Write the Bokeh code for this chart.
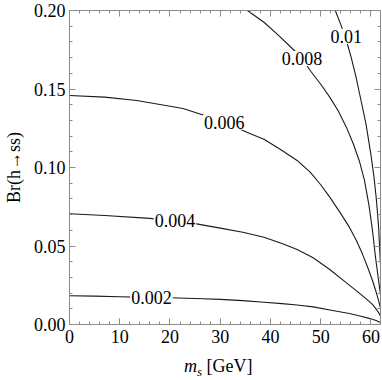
import numpy as np
from bokeh.plotting import figure
from bokeh.models import LinearAxis, FixedTicker, Range1d, Div
from bokeh.layouts import column
from bokeh.core.properties import value
from bokeh.embed import file_html
from bokeh.resources import INLINE

# ---- data ----
x_ticks = [0, 10, 20, 30, 40, 50, 60]
x_tick_labels = ["0", "10", "20", "30", "40", "50", "60"]
y_ticks = [0.0, 0.05, 0.10, 0.15, 0.20]
y_tick_labels = ["0.00", "0.05", "0.10", "0.15", "0.20"]

levels = ["0.002", "0.004", "0.006", "0.008", "0.01"]

c002_x = [0, 5, 10, 15, 20, 26.6, 30, 34.5, 38.7, 42.3, 45.3, 48.5, 52.1, 55.7, 58, 60, 61, 61.9]
c002_y = [0.0183, 0.0181, 0.0177, 0.0173, 0.0170, 0.0164, 0.0160, 0.0152, 0.0142, 0.0133,
          0.0124, 0.0112, 0.0091, 0.0070, 0.0053, 0.0036, 0.0025, 0.0013]

c004_x = [0, 7, 16, 25.3, 30, 34.5, 38.7, 42.3, 45.3, 48.5, 51.8, 55, 57, 59, 60.3, 61.2, 61.9]
c004_y = [0.0705, 0.0694, 0.0676, 0.0641, 0.0614, 0.0588, 0.0556, 0.0516, 0.0478, 0.0425,
          0.0350, 0.0268, 0.0217, 0.0165, 0.0128, 0.0092, 0.0055]

c006_x = [0, 7, 13.4, 22.6, 26.6, 30.9, 35.4, 38.7, 42, 45.3, 47.9, 50, 51.8, 53.8, 55.7,
          57.1, 58.3, 59.4, 60.3, 61.0, 61.5, 61.9]
c006_y = [0.1459, 0.1448, 0.1427, 0.1376, 0.1335, 0.1290, 0.1223, 0.1180, 0.1115, 0.1045,
          0.0970, 0.0890, 0.0811, 0.0716, 0.0620, 0.0535, 0.0450, 0.0360, 0.0280, 0.0210,
          0.0155, 0.0105]

c008_x = [35.4, 38.7, 41.5, 44.6, 46.4, 47.9, 50, 51.8, 53.5, 55.1, 56.5, 57.7, 58.7, 59.6,
          60.3, 60.9, 61.4, 61.9]
c008_y = [0.200, 0.1925, 0.1845, 0.1750, 0.1694, 0.1618, 0.1530, 0.1448, 0.1360, 0.1257,
          0.1150, 0.1040, 0.0920, 0.0760, 0.0600, 0.0430, 0.0310, 0.0190]

c010_x = [52.9, 54, 55, 56, 57, 58, 59, 60, 60.6, 61.1, 61.5, 61.9]
c010_y = [0.200, 0.191, 0.182, 0.171, 0.158, 0.143, 0.128, 0.108, 0.094, 0.079, 0.063, 0.038]

label_x = [16.3, 21.0, 30.8, 46.3, 55.1]
label_y = [0.0172, 0.0664, 0.1288, 0.1694, 0.1835]

FONT = "Liberation Serif"
FRAME = "#8c8c8c"

p = figure(width=382, height=352, x_range=Range1d(0, 61.9), y_range=Range1d(0, 0.2),
           output_backend="svg", toolbar_location=None,
           x_axis_type=None, y_axis_type=None,
           min_border_left=64, min_border_right=2, min_border_top=10, min_border_bottom=28)
p.grid.visible = False
p.outline_line_color = FRAME
p.background_fill_color = "white"
p.border_fill_color = "white"

x_minor = list(np.arange(0, 62, 2))
y_minor = list(np.round(np.arange(0, 0.2001, 0.01), 3))


def make_axis(ticks, minor, labels, show):
    ax = LinearAxis(ticker=FixedTicker(ticks=ticks, minor_ticks=minor),
                    major_tick_in=6, major_tick_out=0, minor_tick_in=3, minor_tick_out=0,
                    axis_line_color=FRAME, major_tick_line_color=FRAME,
                    minor_tick_line_color=FRAME,
                    major_label_text_font=FONT, major_label_text_font_size="18px",
                    major_label_text_color="black")
    if show:
        ax.major_label_overrides = {t: l for t, l in zip(ticks, labels)}
    else:
        ax.major_label_overrides = {t: "" for t in ticks}
        ax.major_label_standoff = 0
    return ax


bottom = make_axis(x_ticks, x_minor, x_tick_labels, True)
bottom.major_label_standoff = 5
left = make_axis(y_ticks, y_minor, y_tick_labels, True)
left.major_label_standoff = 4
left.axis_label = "Br(h\u2192ss)"
left.axis_label_text_font = FONT
left.axis_label_text_font_size = "18px"
left.axis_label_text_font_style = "normal"
left.axis_label_text_color = "black"
left.axis_label_standoff = 7
top = make_axis(x_ticks, x_minor, x_tick_labels, False)
right = make_axis(y_ticks, y_minor, y_tick_labels, False)
p.add_layout(bottom, "below")
p.add_layout(left, "left")
p.add_layout(top, "above")
p.add_layout(right, "right")

LINE = "#1a1a1a"
for xs, ys in [(c002_x, c002_y), (c004_x, c004_y), (c006_x, c006_y),
               (c008_x, c008_y), (c010_x, c010_y)]:
    p.line(xs, ys, line_color=LINE, line_width=1.1)

p.text(x=label_x, y=label_y, text=levels, text_font=value(FONT), text_font_size="18px",
       text_align="center", text_baseline="middle", text_color="black",
       background_fill_color="white", padding=1)

xtitle = Div(
    text=("<span style=\"font-family:'Liberation Serif';font-size:18px;color:black;"
          "white-space:nowrap\"><i>m</i><span style=\"font-size:13px;font-style:italic;"
          "position:relative;top:4px\">s</span> [GeV]</span>"),
    width=382, height=28, margin=(0, 0, 0, 0),
    styles={"padding-left": "184px", "padding-top": "4px", "line-height": "20px"})

layout = column(p, xtitle, spacing=0)
open("out.html", "w").write(file_html(layout, INLINE))
